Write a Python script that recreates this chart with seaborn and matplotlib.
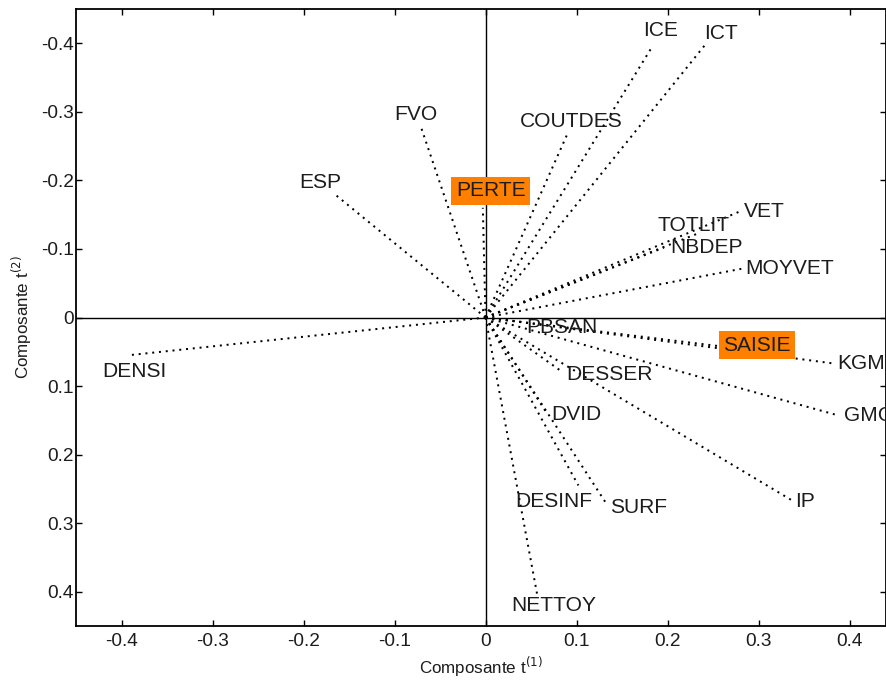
import numpy as np
import pandas as pd
import matplotlib
matplotlib.use("Agg")
import matplotlib.pyplot as plt
import seaborn as sns

# ---- data (loadings) ----
variables = ["DENSI", "ESP", "FVO", "PERTE", "COUTDES", "ICE", "ICT", "VET",
             "TOTLIT", "NBDEP", "MOYVET", "PBSAN", "SAISIE", "KGM2", "GMC",
             "DESSER", "IP", "DVID", "DESINF", "SURF", "NETTOY"]
comp1 = [-0.392, -0.164, -0.071, -0.003, 0.090, 0.184, 0.242, 0.280,
         0.236, 0.196, 0.281, 0.042, 0.258, 0.382, 0.388,
         0.085, 0.337, 0.068, 0.102, 0.132, 0.057]
comp2 = [0.055, -0.178, -0.278, -0.160, -0.268, -0.397, -0.399, -0.155,
         -0.124, -0.102, -0.071, 0.007, 0.042, 0.067, 0.143,
         0.080, 0.267, 0.141, 0.245, 0.270, 0.406]
highlighted = ["PERTE", "SAISIE"]

x_ticks = [-0.4, -0.3, -0.2, -0.1, 0, 0.1, 0.2, 0.3, 0.4]
x_ticklabels = ["-0.4", "-0.3", "-0.2", "-0.1", "0", "0.1", "0.2", "0.3", "0.4"]
y_ticks = [-0.4, -0.3, -0.2, -0.1, 0, 0.1, 0.2, 0.3, 0.4]
y_ticklabels = ["-0.4", "-0.3", "-0.2", "-0.1", "0", "0.1", "0.2", "0.3", "0.4"]

# label placement (offset in points from the end of each ray, alignment)
label_style = {
    "DENSI": (6, -16, "center"), "ESP": (-16, 13, "center"),
    "FVO": (-5, 12, "center"), "PERTE": (8, 17, "center"),
    "COUTDES": (4, 12, "center"), "ICE": (8, 15, "center"),
    "ICT": (15, 10, "center"), "VET": (4, 0, "left"),
    "TOTLIT": (-7, 7, "center"), "NBDEP": (6, 0, "left"),
    "MOYVET": (4, 0, "left"), "PBSAN": (2, -5, "left"),
    "SAISIE": (3, 1, "left"), "KGM2": (4, 0, "left"),
    "GMC": (5, 0, "left"), "DESSER": (3, -2, "left"),
    "IP": (3, -1, "left"), "DVID": (4, 0, "left"),
    "DESINF": (-25, -16, "center"), "SURF": (4, -5, "left"),
    "NETTOY": (16, -10, "center"),
}

# long table: origin + end point for each variable
rows = []
for v, a, b in zip(variables, comp1, comp2):
    rows.append({"var": v, "t1": 0.0, "t2": 0.0, "order": 0})
    rows.append({"var": v, "t1": a, "t2": b, "order": 1})
df = pd.DataFrame(rows)

sns.set_style("ticks")
plt.rcParams["font.family"] = ["Liberation Sans", "DejaVu Sans"]

DPI = 72
fig = plt.figure(figsize=(886 / DPI, 682 / DPI), dpi=DPI)
ax = fig.add_axes([76 / 886, 1 - 626 / 682, 810 / 886, 617 / 682])

sns.lineplot(data=df, x="t1", y="t2", units="var", estimator=None, sort=False,
             color="black", linewidth=2.0, linestyle=(0, (1, 2.4)), ax=ax,
             legend=False)

ax.axhline(0, color="black", lw=1.4, zorder=1)
ax.axvline(0, color="black", lw=1.4, zorder=1)

ax.set_xlim(-0.45, 0.44)
ax.set_ylim(0.45, -0.45)

text_color = "#1c1c1c"
for v, a, b in zip(variables, comp1, comp2):
    dx, dy, ha = label_style[v]
    kw = {}
    if v in highlighted:
        kw["bbox"] = dict(boxstyle="square,pad=0.22", fc="#ff8000", ec="none")
    ax.annotate(v, xy=(a, b), xytext=(dx, dy), textcoords="offset points",
                ha=ha, va="center", fontsize=21, color=text_color, zorder=5, **kw)

ax.set_xticks(x_ticks)
ax.set_xticklabels(x_ticklabels)
ax.set_yticks(y_ticks)
ax.set_yticklabels(y_ticklabels)
ax.tick_params(direction="in", length=6, width=1.4, top=True, right=True,
               labelsize=19, labelcolor=text_color, color="black")
ax.tick_params(axis="x", pad=7)
ax.tick_params(axis="y", pad=2)

for s in ax.spines.values():
    s.set_color("black")
    s.set_linewidth(1.8)

ax.set_xlabel("Composante t$^{(1)}$", fontsize=17, color=text_color, labelpad=5)
ax.set_ylabel("Composante t$^{(2)}$", fontsize=17, color=text_color, labelpad=7)

fig.savefig("out.png", dpi=DPI)
